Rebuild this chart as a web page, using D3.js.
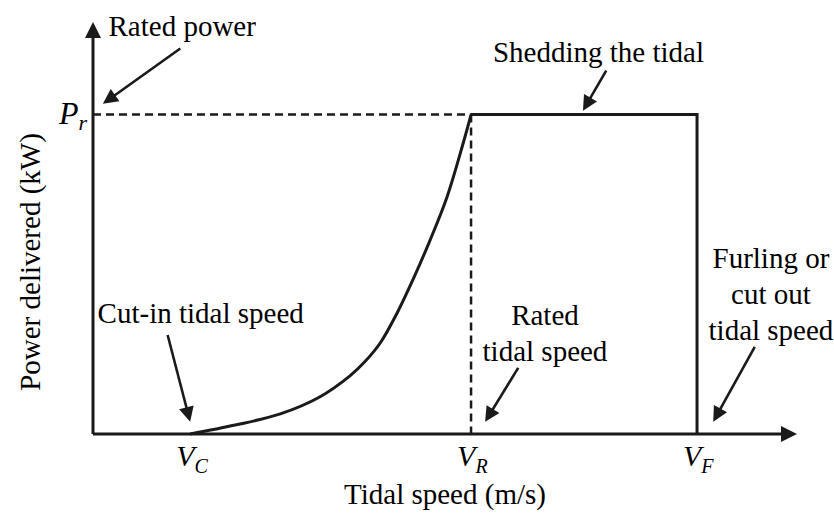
<!DOCTYPE html>
<html><head><meta charset="utf-8">
<script src="https://cdn.jsdelivr.net/npm/d3@7"></script>
</head>
<body style="margin:0"><svg id="c" width="834" height="516" style="font-family:'Liberation Serif'"></svg>
<script>
// ---- data (speed in arbitrary units 0..100, power as fraction of rated power) ----
const speedDomain = [0, 100];
const powerDomain = [0, 1.29];
const curveSpeed = [13.8, 20.2, 26.6, 32.2, 36.5, 38.6, 40.8, 43.2, 45.5, 47.9, 50.3, 52.6, 53.7];
const curvePower = [0, 0.028, 0.063, 0.116, 0.182, 0.226, 0.285, 0.379, 0.486, 0.608, 0.743, 0.912, 1.0];
const ratedPower = 1.0;
const markerSubs = ["C", "R", "F"];
const markerSpeeds = [13.8, 53.7, 85.8];
const xTitle = "Tidal speed (m/s)";
const yTitle = "Power delivered (kW)";
const annoTexts = [["Rated power"], ["Shedding the tidal"], ["Cut-in tidal speed"], ["Rated", "tidal speed"], ["Furling or", "cut out", "tidal speed"]];
const annoTextSpeed = [2.2, 71.8, 15.3, 64.2, 96.3];
const annoTextPower = [1.245, 1.165, 0.348, 0.342, 0.52];
const annoAnchor = ["start", "middle", "middle", "middle", "middle"];
const arrowFromSpeed = [12.4, 72.9, 10.6, 60.4, 94.0];
const arrowFromPower = [1.207, 1.138, 0.31, 0.207, 0.273];
const arrowToSpeed = [1.4, 69.6, 13.8, 55.7, 88.1];
const arrowToPower = [1.034, 1.0125, 0.038, 0.038, 0.038];

const svg = d3.select("#c");
const x = d3.scaleLinear().domain(speedDomain).range([93, 797]);
const y = d3.scaleLinear().domain(powerDomain).range([434, 22]);
const ink = "#1a1a1a";

function txt(sel) { return sel.append("text").style("font-family", "'Liberation Serif'"); }
function head(tx, ty, fx, fy, len, half) {
  const a = Math.atan2(ty - fy, tx - fx);
  const bx = tx - len * Math.cos(a), by = ty - len * Math.sin(a);
  const px = -Math.sin(a) * half, py = Math.cos(a) * half;
  return [[tx, ty], [bx + px, by + py], [bx - px, by - py]];
}
function arrow(fx, fy, tx, ty, w, len, half) {
  const a = Math.atan2(ty - fy, tx - fx);
  svg.append("line").attr("x1", fx).attr("y1", fy)
    .attr("x2", tx - (len - 2) * Math.cos(a)).attr("y2", ty - (len - 2) * Math.sin(a))
    .attr("stroke", ink).attr("stroke-width", w);
  svg.append("polygon").attr("points", head(tx, ty, fx, fy, len, half).map(p => p.join(",")).join(" "))
    .attr("fill", ink);
}

// dashed guides
svg.append("line").attr("x1", x(0)).attr("x2", x(markerSpeeds[1])).attr("y1", y(ratedPower)).attr("y2", y(ratedPower))
  .attr("stroke", ink).attr("stroke-width", 2.5).attr("stroke-dasharray", "8,5");
svg.append("line").attr("x1", x(markerSpeeds[1])).attr("x2", x(markerSpeeds[1])).attr("y1", y(ratedPower)).attr("y2", y(0))
  .attr("stroke", ink).attr("stroke-width", 2.5).attr("stroke-dasharray", "8,5");

// axes
arrow(x(0), y(0), x(speedDomain[1]), y(0), 3, 16, 8);
arrow(x(0), y(0), x(0), y(powerDomain[1]), 3, 16, 8);

// power curve
const pts = curveSpeed.map((s, i) => [s, curvePower[i]]);
svg.append("path").datum(pts)
  .attr("d", d3.line().x(d => x(d[0])).y(d => y(d[1])).curve(d3.curveCatmullRom.alpha(0.5)))
  .attr("fill", "none").attr("stroke", ink).attr("stroke-width", 3);
// rated plateau and cut-out
svg.append("path").datum([[markerSpeeds[1], ratedPower], [markerSpeeds[2], ratedPower], [markerSpeeds[2], 0]])
  .attr("d", d3.line().x(d => x(d[0])).y(d => y(d[1])))
  .attr("fill", "none").attr("stroke", ink).attr("stroke-width", 3);

// annotation arrows
arrowFromSpeed.forEach((s, i) => {
  arrow(x(s), y(arrowFromPower[i]), x(arrowToSpeed[i]), y(arrowToPower[i]), 2.6, 15, 7.5);
});

// annotation texts
annoTexts.forEach((lines, i) => {
  const t = txt(svg).attr("text-anchor", annoAnchor[i]).attr("font-size", 29)
    .attr("x", x(annoTextSpeed[i])).attr("y", y(annoTextPower[i]));
  lines.forEach((l, j) => t.append("tspan").attr("x", x(annoTextSpeed[i])).attr("dy", j === 0 ? 0 : 36).text(l));
});

// marker labels V_C etc.
markerSpeeds.forEach((s, i) => {
  const t = txt(svg).attr("x", x(s) - 14).attr("y", 466).attr("font-size", 30).attr("font-style", "italic");
  t.append("tspan").text("V");
  t.append("tspan").attr("font-size", 20).attr("dy", 7).text(markerSubs[i]);
});
// P_r label
const pr = txt(svg).attr("x", 87).attr("y", y(ratedPower) + 9).attr("text-anchor", "end")
  .attr("font-size", 32).attr("font-style", "italic");
pr.append("tspan").text("P");
pr.append("tspan").attr("font-size", 22).attr("dy", 6).text("r");

// axis titles
txt(svg).attr("x", 445).attr("y", 504).attr("text-anchor", "middle").attr("font-size", 29).text(xTitle);
txt(svg).attr("transform", "translate(40,262) rotate(-90)").attr("text-anchor", "middle")
  .attr("font-size", 29).text(yTitle);
</script></body></html>
